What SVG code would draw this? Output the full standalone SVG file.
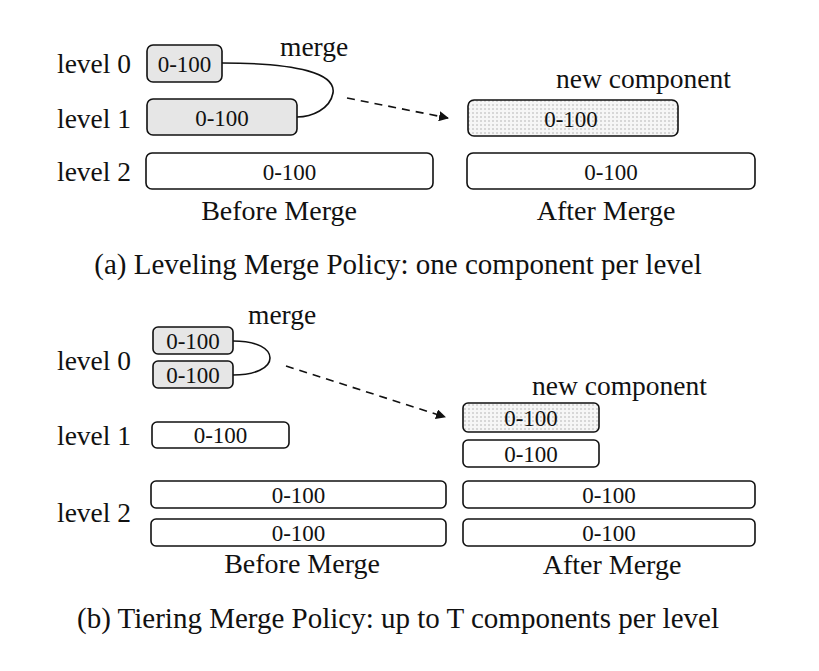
<svg xmlns="http://www.w3.org/2000/svg" width="819" height="671" viewBox="0 0 819 671">
<style>
text{font-family:"Liberation Serif","Times New Roman",serif;fill:#111}
.lbl{font-size:27.5px}
.num{font-size:23px;text-anchor:middle}
.sub{font-size:28px;text-anchor:middle}
.cap{font-size:29px;text-anchor:middle}
.box{stroke:#111;stroke-width:1.6;fill:#fff}
.gray{fill:#e6e6e6}
.dot{fill:url(#dots)}
.con{fill:none;stroke:#111;stroke-width:1.6}
.dash{fill:none;stroke:#111;stroke-width:1.6;stroke-dasharray:8,6}
</style>
<defs>
<pattern id="dots" width="4" height="4" patternUnits="userSpaceOnUse">
<rect width="4" height="4" fill="#f6f6f6"/>
<circle cx="1" cy="1" r="0.8" fill="#b0b0b0"/>
</pattern>
<marker id="arr" markerWidth="10" markerHeight="10" refX="9" refY="5" orient="auto" markerUnits="userSpaceOnUse" viewBox="0 0 10 10">
<path d="M0,0 L10,5 L0,10 z" fill="#111"/>
</marker>
</defs>
<rect width="819" height="671" fill="#fff"/>

<!-- (a) -->
<g id="a-labels">
<text class="lbl" x="57" y="73">level 0</text>
<text class="lbl" x="57" y="128">level 1</text>
<text class="lbl" x="57" y="181">level 2</text>
<text class="lbl" x="280" y="56">merge</text>
<text class="lbl" x="556" y="88">new component</text>
<text class="sub" x="279" y="220">Before Merge</text>
<text class="sub" x="606" y="220">After Merge</text>
<text class="cap" x="398" y="274">(a) Leveling Merge Policy: one component per level</text>
</g>
<g id="a-before-l0"><rect class="box gray" x="147" y="45" width="75" height="37" rx="6"/><text class="num" x="184.5" y="72">0-100</text></g>
<g id="a-before-l1"><rect class="box gray" x="147" y="99" width="150" height="36" rx="6"/><text class="num" x="222" y="126">0-100</text></g>
<g id="a-before-l2"><rect class="box" x="146" y="153" width="287" height="36" rx="6"/><text class="num" x="289.5" y="180">0-100</text></g>
<g id="a-after-l1"><rect class="box dot" x="468" y="100" width="210" height="36" rx="6"/><text class="num" x="571" y="127">0-100</text></g>
<g id="a-after-l2"><rect class="box" x="467" y="153" width="288" height="36" rx="6"/><text class="num" x="611" y="180">0-100</text></g>

<!-- (b) -->
<g id="b-labels">
<text class="lbl" x="57" y="370">level 0</text>
<text class="lbl" x="57" y="445">level 1</text>
<text class="lbl" x="57" y="522">level 2</text>
<text class="lbl" x="248" y="324">merge</text>
<text class="lbl" x="532" y="395">new component</text>
<text class="sub" x="302" y="573">Before Merge</text>
<text class="sub" x="612" y="574">After Merge</text>
<text class="cap" x="398" y="628">(b) Tiering Merge Policy: up to T components per level</text>
</g>
<g id="b-before-l0a"><rect class="box gray" x="153" y="327" width="80" height="27" rx="5"/><text class="num" x="193" y="349">0-100</text></g>
<g id="b-before-l0b"><rect class="box gray" x="153" y="361" width="80" height="27" rx="5"/><text class="num" x="193" y="383">0-100</text></g>
<g id="b-before-l1"><rect class="box" x="152" y="422" width="137" height="26" rx="5"/><text class="num" x="220.5" y="443">0-100</text></g>
<g id="b-before-l2a"><rect class="box" x="151" y="481" width="295" height="27" rx="5"/><text class="num" x="298.5" y="503">0-100</text></g>
<g id="b-before-l2b"><rect class="box" x="151" y="519" width="295" height="27" rx="5"/><text class="num" x="298.5" y="541">0-100</text></g>
<g id="b-after-l1a"><rect class="box dot" x="463" y="403" width="136" height="29" rx="5"/><text class="num" x="531" y="426">0-100</text></g>
<g id="b-after-l1b"><rect class="box" x="463" y="440" width="136" height="27" rx="5"/><text class="num" x="531" y="462">0-100</text></g>
<g id="b-after-l2a"><rect class="box" x="463" y="481" width="292" height="27" rx="5"/><text class="num" x="609" y="503">0-100</text></g>
<g id="b-after-l2b"><rect class="box" x="463" y="519" width="292" height="27" rx="5"/><text class="num" x="609" y="541">0-100</text></g>

<g id="connectors">
<path class="con" d="M222,63 C300,63 336,74 333,93 C330,109 312,117 297,117"/>
<path class="dash" d="M347,98 L448,118" marker-end="url(#arr)"/>
<path class="con" d="M233,341 C258,341 270,349 270,358 C270,368 255,375 233,375"/>
<path class="dash" d="M286,366 L445,417" marker-end="url(#arr)"/>
</g>
</svg>
